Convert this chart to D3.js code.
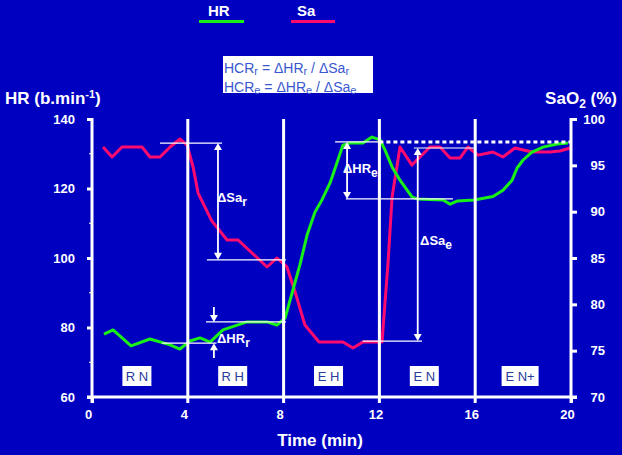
<!DOCTYPE html>
<html><head><meta charset="utf-8">
<script src="https://cdn.jsdelivr.net/npm/d3@7"></script>
<style>
body{margin:0;background:#0000c0}
svg{display:block}
text{font-family:"Liberation Sans",Arial,Helvetica,sans-serif}
</style>
</head><body>
<svg id="chart" width="622" height="455"></svg>
<script>
// ---- data ----
const hrTime   = [0.5,0.88,1.63,2.42,3.26,3.67,4.09,4.51,4.93,5.47,6.47,7.31,7.72,8.06,8.39,8.68,8.98,9.31,9.6,9.94,10.48,10.77,11.31,11.69,12.03,12.23,12.53,12.86,13.36,13.57,14.66,14.95,15.24,15.95,16.74,17.16,17.54,17.75,18.0,18.37,18.83,19.42,19.87];
const hrValues = [78.1,79.3,74.7,76.7,75.0,73.8,76.1,77.0,75.8,79.3,81.6,81.6,80.7,82.7,90.8,98.0,106.6,113.2,116.7,121.6,132.5,133.1,133.1,134.8,134.0,131.1,126.2,122.4,117.6,117.0,116.7,115.5,116.4,116.7,117.7,119.5,122.4,125.9,128.2,130.5,131.9,132.8,133.1];
const saTime   = [0.46,0.84,1.25,2.09,2.42,2.84,3.26,3.67,3.97,4.22,4.43,5.0,5.64,6.1,7.31,7.72,8.14,8.52,8.89,9.48,10.48,10.9,11.31,12.11,12.36,12.53,12.86,13.36,14.11,14.53,14.95,15.37,15.7,16.12,16.74,17.16,17.66,18.37,19.12,19.54,19.96];
const saValues = [96.98,95.9,96.98,96.98,95.9,95.9,96.98,97.84,97.19,94.82,92.01,89.0,86.94,86.94,84.03,85.0,84.03,81.0,77.77,75.94,75.94,75.29,75.94,75.94,84.46,91.58,96.98,95.03,96.98,96.98,95.8,95.8,96.98,96.1,96.44,95.9,96.87,96.44,96.44,96.55,96.87];

const xTicks  = [0,4,8,12,16,20];
const hrTicks = [60,80,100,120,140];
const hrMinor = [70,90,110,130];
const saTicks = [70,75,80,85,90,95,100];
const phaseBounds  = [4,8,12,16];
const phaseLabels  = ["R N","R H","E H","E N","E N+"];
const phaseCenters = [2,6,10,14,18];

// reference lines [t0, t1, value]
const hrRefLines = [[4.76,8.1,81.6],[2.92,5.2,75.5],[10.15,12,133.4],[10.6,15.07,117.0]];
const saRefLines = [[2.84,5.43,97.4],[4.8,8.1,84.8],[13.44,15.99,96.87],[11.3,13.78,76.04]];
const hrDashed   = [12,20,133.4];
// double arrows [t, v0, v1]
const saArrows = [[5.26,97.4,84.8],[13.6,96.87,76.04]];
const hrArrows = [[10.65,133.4,117.0]];
// single-headed arrows [t, from, to]
const hrInArrows = [[5.09,85.9,81.6],[5.09,71.2,75.5]];
// labels [t, value, main, sub, axis]
const deltaLabels = [[5.22,91.0,"ΔSa","r","sa"],[5.22,75.5,"ΔHR","r","hr"],[10.48,124.5,"ΔHR","e","hr"],[13.7,86.4,"ΔSa","e","sa"]];
const formulaLines = [
  [["HCR",0],["r",1],[" = ΔHR",0],["r",1],[" / ΔSa",0],["r",1]],
  [["HCR",0],["e",1],[" = ΔHR",0],["e",1],[" / ΔSa",0],["e",1]]
];

// ---- drawing ----
const GREEN="#18f018", RED="#ff0a6e", WHITE="#ffffff";
const svg = d3.select("#chart");
svg.append("rect").attr("width",622).attr("height",455).attr("fill","#0000c0");

const x   = d3.scaleLinear().domain([0,20]).range([92,571]);
const yHR = d3.scaleLinear().domain([60,140]).range([397,119]);
const ySa = d3.scaleLinear().domain([70,100]).range([397,119]);

// data lines
const hrData = hrTime.map((t,i)=>[t,hrValues[i]]);
const saData = saTime.map((t,i)=>[t,saValues[i]]);
svg.append("path").datum(saData)
  .attr("d", d3.line().x(d=>x(d[0])).y(d=>ySa(d[1])))
  .attr("fill","none").attr("stroke",RED).attr("stroke-width",3).attr("stroke-linejoin","round");
svg.append("path").datum(hrData)
  .attr("d", d3.line().x(d=>x(d[0])).y(d=>yHR(d[1])))
  .attr("fill","none").attr("stroke",GREEN).attr("stroke-width",3).attr("stroke-linejoin","round");

// phase vertical lines
svg.selectAll(".phase").data(phaseBounds).join("line")
  .attr("x1",d=>x(d)).attr("x2",d=>x(d)).attr("y1",yHR(140)).attr("y2",yHR(60)+6)
  .attr("stroke",WHITE).attr("stroke-width",3);

// axes
const gL = svg.append("g").attr("transform",`translate(${x(0)},0)`)
  .call(d3.axisLeft(yHR).tickValues(hrTicks).tickSize(5).tickPadding(12).tickFormat(d3.format("d")));
const gR = svg.append("g").attr("transform",`translate(${x(20)},0)`)
  .call(d3.axisRight(ySa).tickValues(saTicks).tickSize(6).tickPadding(28).tickFormat(d3.format("d")));
const gB = svg.append("g").attr("transform",`translate(0,${yHR(60)})`)
  .call(d3.axisBottom(x).tickValues(xTicks).tickSize(6).tickPadding(7).tickFormat(d3.format("d")));
[gL,gR,gB].forEach(g=>{
  g.select(".domain").remove();
  g.selectAll(".tick line").attr("stroke",WHITE).attr("stroke-width",3);
  g.selectAll(".tick text").attr("fill",WHITE).attr("font-size",13).attr("font-weight","bold")
    .attr("font-family",'"Liberation Sans",Arial,sans-serif');
});
gR.selectAll(".tick text").attr("text-anchor","end");
gB.selectAll(".tick text").attr("dx",-4);
gB.selectAll(".tick line").filter(d=>d>0&&d<20).remove();
svg.selectAll(".minor").data(hrMinor).join("line")
  .attr("x1",x(0)-3).attr("x2",x(0)).attr("y1",d=>yHR(d)).attr("y2",d=>yHR(d))
  .attr("stroke",WHITE).attr("stroke-width",1);

svg.append("line").attr("x1",x(0)).attr("x2",x(0)).attr("y1",yHR(140)-1).attr("y2",yHR(60)+6).attr("stroke",WHITE).attr("stroke-width",3);
svg.append("line").attr("x1",x(20)).attr("x2",x(20)).attr("y1",yHR(140)-1).attr("y2",yHR(60)+6).attr("stroke",WHITE).attr("stroke-width",3);
svg.append("line").attr("x1",x(0)-5).attr("x2",x(20)+6).attr("y1",yHR(60)).attr("y2",yHR(60)).attr("stroke",WHITE).attr("stroke-width",3);

// reference lines
hrRefLines.forEach(([a,b,v])=>svg.append("line").attr("x1",x(a)).attr("x2",x(b)).attr("y1",yHR(v)).attr("y2",yHR(v)).attr("stroke",WHITE).attr("stroke-width",1.2));
saRefLines.forEach(([a,b,v])=>svg.append("line").attr("x1",x(a)).attr("x2",x(b)).attr("y1",ySa(v)).attr("y2",ySa(v)).attr("stroke",WHITE).attr("stroke-width",1.2));
svg.append("line").attr("x1",x(hrDashed[0])).attr("x2",x(hrDashed[1])).attr("y1",yHR(hrDashed[2])).attr("y2",yHR(hrDashed[2]))
  .attr("stroke",WHITE).attr("stroke-width",3).attr("stroke-dasharray","4,3");

// arrows
function head(px,py,dir){ // dir: +1 pointing down, -1 pointing up
  const L=7,W=4;
  svg.append("path").attr("d",`M${px},${py}L${px-W},${py-dir*L}L${px+W},${py-dir*L}Z`).attr("fill",WHITE);
}
function dbl(px,y0,y1){
  svg.append("line").attr("x1",px).attr("x2",px).attr("y1",y0+4).attr("y2",y1-4).attr("stroke",WHITE).attr("stroke-width",1.8);
  head(px,y0,-1); head(px,y1,1);
}
saArrows.forEach(([t,a,b])=>dbl(x(t),ySa(a),ySa(b)));
hrArrows.forEach(([t,a,b])=>dbl(x(t),yHR(a),yHR(b)));
hrInArrows.forEach(([t,a,b])=>{
  const y0=yHR(a), y1=yHR(b), dir = y1>y0?1:-1;
  svg.append("line").attr("x1",x(t)).attr("x2",x(t)).attr("y1",y0).attr("y2",y1-dir*4).attr("stroke",WHITE).attr("stroke-width",1.8);
  head(x(t),y1,dir);
});

function subText(px,py,parts,size,subSize,shift,fill,weight){
  const t=svg.append("text").attr("x",px).attr("y",py).attr("fill",fill).attr("font-size",size).attr("font-weight",weight);
  let prevSub=false;
  parts.forEach(([s,isSub])=>{
    const ts=t.append("tspan").text(s);
    if(isSub){ ts.attr("font-size",subSize).attr("dy",prevSub?0:shift); }
    else if(prevSub){ ts.attr("dy",-shift); }
    prevSub=!!isSub;
  });
  return t;
}
deltaLabels.forEach(([t,v,m,s,ax])=>{
  const py = ax==="hr"? yHR(v): ySa(v);
  subText(x(t),py,[[m,0],[s,1]],13,12,4,WHITE,"bold");
});

// phase labels
phaseLabels.forEach((lab,i)=>{
  const cx = x(phaseCenters[i])-3, w = lab.length>3?37:29;
  svg.append("rect").attr("x",cx-w/2).attr("y",366).attr("width",w).attr("height",20).attr("fill",WHITE);
  svg.append("text").attr("x",cx).attr("y",381).attr("text-anchor","middle").attr("font-size",13)
    .attr("fill","#2a3a9c").text(lab);
});

// formula box
svg.append("rect").attr("x",223).attr("y",56).attr("width",150).attr("height",37).attr("fill",WHITE);
formulaLines.forEach((parts,i)=>subText(224,73+i*19,parts,14,11,2,"#3a57d0","normal"));

// legend
svg.append("text").attr("x",208).attr("y",16).attr("fill",WHITE).attr("font-size",15).attr("font-weight","bold").text("HR");
svg.append("line").attr("x1",199).attr("x2",244).attr("y1",21.5).attr("y2",21.5).attr("stroke",GREEN).attr("stroke-width",3);
svg.append("text").attr("x",297).attr("y",16).attr("fill",WHITE).attr("font-size",15).attr("font-weight","bold").text("Sa");
svg.append("line").attr("x1",291).attr("x2",335).attr("y1",21.5).attr("y2",21.5).attr("stroke",RED).attr("stroke-width",3);

// axis titles
const tl = svg.append("text").attr("x",5).attr("y",104).attr("fill",WHITE).attr("font-size",17).attr("font-weight","bold");
tl.append("tspan").text("HR (b.min");
tl.append("tspan").attr("font-size",11).attr("dy",-6).text("-1");
tl.append("tspan").attr("dy",6).text(")");
const tr = svg.append("text").attr("x",617).attr("y",104).attr("text-anchor","end").attr("fill",WHITE).attr("font-size",17).attr("font-weight","bold");
tr.append("tspan").text("SaO");
tr.append("tspan").attr("font-size",12).attr("dy",4).text("2");
tr.append("tspan").attr("dy",-4).text(" (%)");
svg.append("text").attr("x",320).attr("y",446).attr("text-anchor","middle").attr("fill",WHITE).attr("font-size",17).attr("font-weight","bold").text("Time (min)");
</script>
</body></html>
